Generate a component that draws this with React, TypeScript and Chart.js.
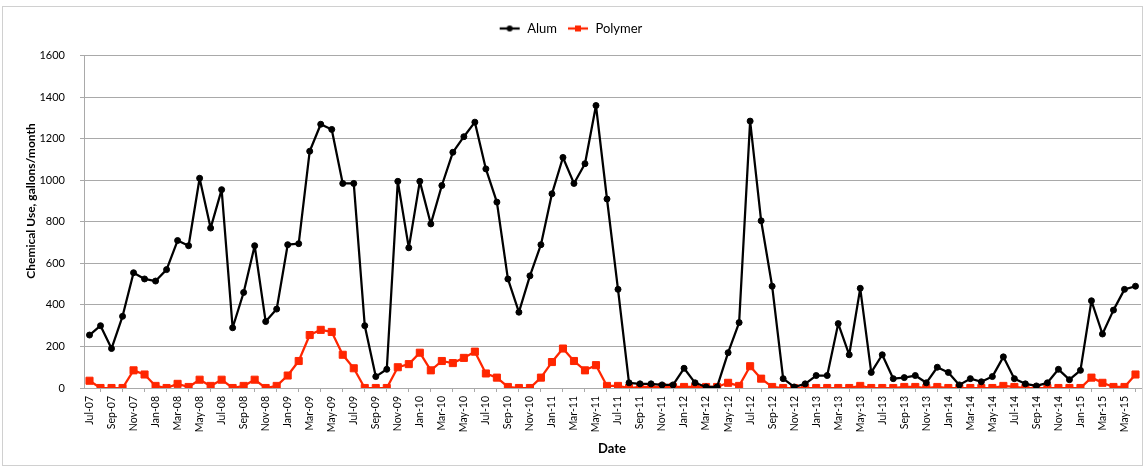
import React, { useEffect, useRef } from 'react';
import { Chart, registerables } from 'chart.js';

Chart.register(...registerables);

const months: string[] = [
  'Jul-07','Aug-07','Sep-07','Oct-07','Nov-07','Dec-07',
  'Jan-08','Feb-08','Mar-08','Apr-08','May-08','Jun-08','Jul-08','Aug-08','Sep-08','Oct-08','Nov-08','Dec-08',
  'Jan-09','Feb-09','Mar-09','Apr-09','May-09','Jun-09','Jul-09','Aug-09','Sep-09','Oct-09','Nov-09','Dec-09',
  'Jan-10','Feb-10','Mar-10','Apr-10','May-10','Jun-10','Jul-10','Aug-10','Sep-10','Oct-10','Nov-10','Dec-10',
  'Jan-11','Feb-11','Mar-11','Apr-11','May-11','Jun-11','Jul-11','Aug-11','Sep-11','Oct-11','Nov-11','Dec-11',
  'Jan-12','Feb-12','Mar-12','Apr-12','May-12','Jun-12','Jul-12','Aug-12','Sep-12','Oct-12','Nov-12','Dec-12',
  'Jan-13','Feb-13','Mar-13','Apr-13','May-13','Jun-13','Jul-13','Aug-13','Sep-13','Oct-13','Nov-13','Dec-13',
  'Jan-14','Feb-14','Mar-14','Apr-14','May-14','Jun-14','Jul-14','Aug-14','Sep-14','Oct-14','Nov-14','Dec-14',
  'Jan-15','Feb-15','Mar-15','Apr-15','May-15','Jun-15'
];

const alumUse: number[] = [
  255, 300, 190, 345, 555, 525, 515, 570, 710, 685, 1010, 770, 955, 290, 460, 685, 320, 380, 690, 695, 1140, 1270, 1245, 985, 985,
  300, 55, 90, 995, 675, 995, 790, 975, 1135, 1210, 1280, 1055, 895, 525, 365, 540, 690, 935, 1110, 985, 1080, 1360, 910, 475, 25, 20,
  20, 15, 15, 95, 25, 5, 5, 170, 315, 1285, 805, 490, 45, 5, 20, 60, 60, 310, 160, 480, 75, 160, 45, 50, 60,
  25, 100, 75, 15, 45, 30, 55, 150, 45, 20, 10, 25, 90, 40, 85, 420, 260, 375, 475, 490
];

const polymerUse: number[] = [
  35, 0, 0, 0, 85, 65, 10, 0, 20, 5, 40, 10, 40, 0, 10, 40, 0, 10, 60, 130, 255, 280, 270, 160, 95,
  0, 0, 0, 100, 115, 170, 85, 130, 120, 145, 175, 70, 50, 5, 0, 0, 50, 125, 190, 130, 85, 110, 10, 10, 0, 5,
  5, 5, 5, 5, 5, 5, 5, 25, 10, 105, 45, 5, 0, 0, 0, 0, 0, 0, 0, 10, 0, 0, 0, 5, 5,
  0, 5, 0, 0, 0, 0, 0, 10, 5, 0, 0, 0, 0, 0, 0, 50, 25, 5, 5, 65
];

const seriesNames: string[] = ['Alum', 'Polymer'];
const yAxisTitle = 'Chemical Use, gallons/month';
const xAxisTitle = 'Date';
const yMin = 0;
const yMax = 1600;
const yStep = 200;

const ALUM_COLOR = '#000000';
const POLY_COLOR = '#ff2600';
const GRID_COLOR = '#a9a9a9';
const FONT = 'Lato, "Open Sans", sans-serif';

function makeLegendIcon(color: string, shape: 'circle' | 'square'): HTMLCanvasElement {
  const c = document.createElement('canvas');
  c.width = 22;
  c.height = 10;
  const ctx = c.getContext('2d')!;
  ctx.strokeStyle = color;
  ctx.lineWidth = 2.25;
  ctx.beginPath();
  ctx.moveTo(1, 5);
  ctx.lineTo(21, 5);
  ctx.stroke();
  ctx.fillStyle = color;
  if (shape === 'circle') {
    ctx.beginPath();
    ctx.arc(11, 5, 3, 0, Math.PI * 2);
    ctx.fill();
  } else {
    ctx.fillRect(8, 2, 6, 6);
  }
  return c;
}

export default function App() {
  const ref = useRef<HTMLCanvasElement | null>(null);

  useEffect(() => {
    if (!ref.current) return;
    const icons = [makeLegendIcon(ALUM_COLOR, 'circle'), makeLegendIcon(POLY_COLOR, 'square')];

    const legendFit = {
      id: 'legendFit',
      beforeLayout(chart: any) {
        const lg = chart.legend;
        if (lg && !lg._fitWrapped) {
          const orig = lg.fit;
          lg.fit = function () {
            orig.call(this);
            this.height = 43.7;
          };
          lg._fitWrapped = true;
        }
      },
    };

    const decor = {
      id: 'decor',
      beforeDraw(chart: any) {
        const ctx = chart.ctx;
        ctx.save();
        ctx.strokeStyle = '#d0d0d0';
        ctx.lineWidth = 1;
        ctx.strokeRect(2.5, 6.5, 1140, 459);
        ctx.restore();
      },
      afterDraw(chart: any) {
        const ctx = chart.ctx;
        ctx.save();
        ctx.fillStyle = '#000';
        ctx.textAlign = 'center';
        ctx.textBaseline = 'middle';
        ctx.font = `bold 12px ${FONT}`;
        ctx.translate(31, 201);
        ctx.rotate(-Math.PI / 2);
        ctx.fillText(yAxisTitle, 0, 0);
        ctx.restore();
        ctx.save();
        ctx.fillStyle = '#000';
        ctx.textAlign = 'center';
        ctx.textBaseline = 'middle';
        ctx.font = `bold 13px ${FONT}`;
        ctx.fillText(xAxisTitle, 612, 449);
        ctx.restore();
      },
    };

    const chart = new Chart(ref.current, {
      type: 'line',
      data: {
        labels: months,
        datasets: [
          {
            label: seriesNames[0],
            data: alumUse,
            borderColor: ALUM_COLOR,
            backgroundColor: ALUM_COLOR,
            borderWidth: 2.25,
            borderJoinStyle: 'round',
            pointStyle: 'circle',
            pointRadius: 3,
            pointBorderWidth: 1,
            pointBackgroundColor: ALUM_COLOR,
            pointBorderColor: ALUM_COLOR,
            tension: 0,
          },
          {
            label: seriesNames[1],
            data: polymerUse,
            borderColor: POLY_COLOR,
            backgroundColor: POLY_COLOR,
            borderWidth: 2.25,
            borderJoinStyle: 'round',
            pointStyle: 'rect',
            pointRadius: 5,
            pointBorderWidth: 1,
            pointBackgroundColor: POLY_COLOR,
            pointBorderColor: POLY_COLOR,
            tension: 0,
          },
        ],
      },
      options: {
        responsive: false,
        animation: false,
        devicePixelRatio: 1,
        layout: { padding: { left: 0, right: 7, top: 12, bottom: 0 } },
        plugins: {
          tooltip: { enabled: false },
          legend: {
            display: true,
            position: 'top',
            labels: {
              usePointStyle: true,
              pointStyleWidth: 22,
              padding: 10,
              color: '#000',
              font: { family: FONT, size: 13 },
              generateLabels(chart: any) {
                const items = Chart.defaults.plugins.legend.labels.generateLabels(chart);
                return items.map((it: any, i: number) => ({ ...it, pointStyle: icons[i] }));
              },
            },
          },
        },
        scales: {
          x: {
            type: 'category',
            offset: true,
            afterFit(scale: any) {
              scale.height = 80;
            },
            grid: {
              offset: true,
              drawOnChartArea: false,
              drawTicks: true,
              tickLength: 4,
              color: GRID_COLOR,
            },
            border: { display: true, color: GRID_COLOR },
            ticks: {
              autoSkip: false,
              minRotation: 90,
              maxRotation: 90,
              padding: 4,
              color: '#000',
              font: { family: FONT, size: 10.5 },
              callback(this: any, _v: any, index: number) {
                return index % 2 === 0 ? months[index] : null;
              },
            },
          },
          y: {
            min: yMin,
            max: yMax,
            afterFit(scale: any) {
              scale.width = 84;
            },
            grid: {
              color: GRID_COLOR,
              lineWidth: 1,
              tickLength: 4,
              drawTicks: true,
            },
            border: { display: true, color: GRID_COLOR },
            ticks: {
              stepSize: yStep,
              padding: 15,
              color: '#000',
              font: { family: FONT, size: 11 },
              callback(value: any) {
                return String(value);
              },
            },
          },
        },
      },
      plugins: [legendFit, decor],
    } as any);

    return () => chart.destroy();
  }, []);

  return (
    <div style={{ position: 'absolute', left: 0, top: 0, width: 1148, height: 468, background: '#fff' }}>
      <canvas ref={ref} width={1148} height={468} style={{ width: 1148, height: 468, display: 'block' }} />
    </div>
  );
}
